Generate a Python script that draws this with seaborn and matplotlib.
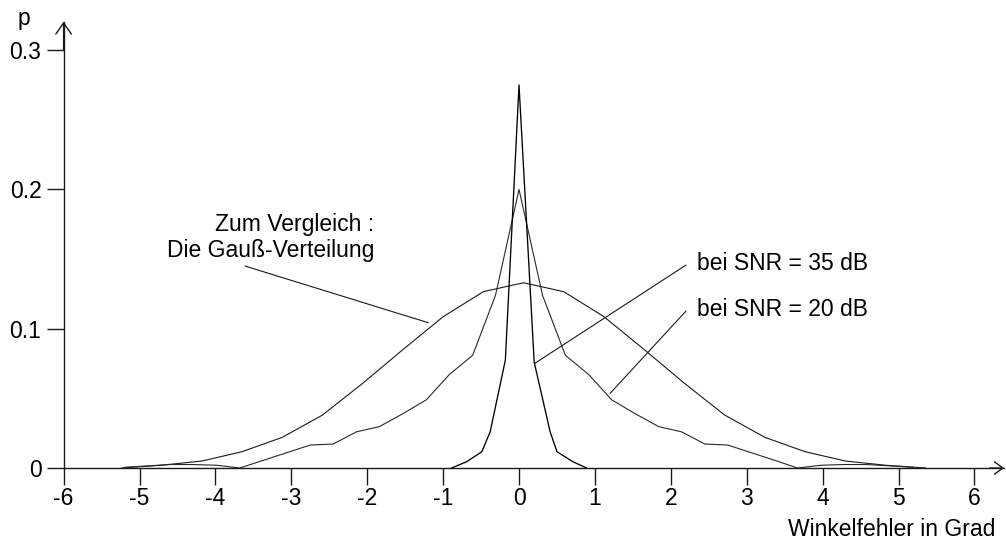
import matplotlib
matplotlib.use("Agg")
import matplotlib.pyplot as plt
import seaborn as sns
import pandas as pd

# ---- data ----
gauss_x = [-5.24, -4.71, -4.18, -3.65, -3.12, -2.59, -2.06, -1.53, -1.00, -0.47, 0.06,
           0.59, 1.12, 1.65, 2.18, 2.71, 3.24, 3.77, 4.30, 4.83, 5.36]
gauss_y = [0.0, 0.002, 0.005, 0.0117, 0.022, 0.038, 0.0608, 0.085, 0.1086, 0.1266, 0.133,
           0.1266, 0.1086, 0.085, 0.0608, 0.038, 0.022, 0.0117, 0.005, 0.002, 0.0]

snr20_x = [-5.2, -4.9, -4.6, -4.3, -3.98, -3.68, -3.37, -3.06, -2.75, -2.45, -2.14, -1.84,
           -1.53, -1.22, -0.92, -0.61, -0.31, 0.0, 0.31, 0.61, 0.92, 1.22, 1.53, 1.84,
           2.14, 2.45, 2.75, 3.06, 3.37, 3.67, 3.98, 4.28, 4.59, 4.89, 5.2]
snr20_y = [0.0005, 0.0015, 0.0025, 0.0025, 0.002, 0.0, 0.0055, 0.011, 0.0165, 0.0172, 0.026,
           0.0297, 0.039, 0.049, 0.067, 0.081, 0.124, 0.2, 0.124, 0.081, 0.067, 0.049,
           0.039, 0.0297, 0.026, 0.0172, 0.0165, 0.011, 0.0055, 0.0, 0.002, 0.0025,
           0.0025, 0.0015, 0.0005]

snr35_x = [-0.89, -0.69, -0.49, -0.38, -0.18, 0.0, 0.2, 0.41, 0.5, 0.71, 0.89]
snr35_y = [0.0, 0.0045, 0.0117, 0.026, 0.0775, 0.275, 0.076, 0.026, 0.0117, 0.0045, 0.0]

x_ticks = [-6, -5, -4, -3, -2, -1, 0, 1, 2, 3, 4, 5, 6]
x_tick_labels = ["-6", "-5", "-4", "-3", "-2", "-1", "0", "1", "2", "3", "4", "5", "6"]
y_ticks = [0.0, 0.1, 0.2, 0.3]
y_tick_labels = ["0", "0.1", "0.2", "0.3"]
y_minor_ticks = [0.0333, 0.0667, 0.1333, 0.1667, 0.2333, 0.2667]

label_gauss = "Zum Vergleich :\nDie Gauß-Verteilung"
label_35 = "bei SNR = 35 dB"
label_20 = "bei SNR = 20 dB"
x_label = "Winkelfehler in Grad"
y_label = "p"

# ---- style ----
sns.set_theme(style="white")
plt.rcParams["font.family"] = ["Liberation Sans", "DejaVu Sans"]
plt.rcParams["axes.unicode_minus"] = False

FS = 16.5
INK = "#1a1a1a"

fig = plt.figure(figsize=(10.06, 5.41), dpi=100)
ax = fig.add_axes([0, 0, 1, 1])
ax.set_xlim(-6.838, 6.416)
ax.set_ylim(-0.0524, 0.336)
ax.set_facecolor("white")

gdf = pd.DataFrame({"x": gauss_x, "y": gauss_y})
d20 = pd.DataFrame({"x": snr20_x, "y": snr20_y})
d35 = pd.DataFrame({"x": snr35_x, "y": snr35_y})

sns.lineplot(data=gdf, x="x", y="y", ax=ax, sort=False, color=INK, lw=0.8, estimator=None)
sns.lineplot(data=d20, x="x", y="y", ax=ax, sort=False, color="#2a2a2a", lw=0.8,
             estimator=None)
sns.lineplot(data=d35, x="x", y="y", ax=ax, sort=False, color="black", lw=0.95,
             estimator=None)

# ---- axes as drawn in the reference ----
for s in ["top", "right"]:
    ax.spines[s].set_visible(False)
ax.spines["left"].set_position(("data", -6))
ax.spines["bottom"].set_position(("data", 0))
ax.spines["left"].set_bounds(0, 0.3204)
ax.spines["bottom"].set_bounds(-6, 6.39)
for s in ["left", "bottom"]:
    ax.spines[s].set_color(INK)
    ax.spines[s].set_linewidth(1.0)

ax.set_xticks(x_ticks)
ax.set_xticklabels(x_tick_labels)
ax.set_yticks(y_ticks)
ax.set_yticklabels(y_tick_labels)
ax.set_yticks(y_minor_ticks, minor=True)
ax.tick_params(axis="both", which="both", direction="out", length=12, width=1.0,
               color=INK, labelsize=FS, labelcolor="black")
ax.tick_params(axis="x", pad=1.5)
ax.tick_params(axis="y", pad=4)
ax.tick_params(bottom=True, left=True)
ax.set_xlabel("")
ax.set_ylabel("")
ax.grid(False)

# axis arrows
ax.annotate("", xy=(-6, 0.3204), xytext=(-6, 0.30),
            arrowprops=dict(arrowstyle="->,head_length=0.4,head_width=0.28", lw=1.0,
                            color=INK, shrinkA=0, shrinkB=0, mutation_scale=20))
ax.annotate("", xy=(6.39, 0), xytext=(6.2, 0),
            arrowprops=dict(arrowstyle="->,head_length=0.3,head_width=0.22", lw=1.0,
                            color=INK, shrinkA=0, shrinkB=0, mutation_scale=20))

# axis labels
ax.text(-6.52, 0.318, y_label, fontsize=FS, ha="center", va="baseline", color="black")
ax.text(6.27, -0.0488, x_label, fontsize=FS, ha="right", va="baseline", color="black")

# annotations with leader lines
ax.text(-1.91, 0.1655, label_gauss, fontsize=FS, ha="right", va="center",
        multialignment="right", linespacing=1.2, color="black")
ax.text(2.34, 0.147, label_35, fontsize=FS, ha="left", va="center", color="black")
ax.text(2.34, 0.1139, label_20, fontsize=FS, ha="left", va="center", color="black")

leader = dict(arrowstyle="-", lw=0.8, color=INK, shrinkA=0, shrinkB=0)
ax.annotate("", xy=(-1.195, 0.1043), xytext=(-3.61, 0.145), arrowprops=leader)
ax.annotate("", xy=(0.21, 0.0752), xytext=(2.2, 0.1457), arrowprops=leader)
ax.annotate("", xy=(1.2, 0.0536), xytext=(2.2, 0.1127), arrowprops=leader)

fig.savefig("out.png", dpi=100, facecolor="white")
